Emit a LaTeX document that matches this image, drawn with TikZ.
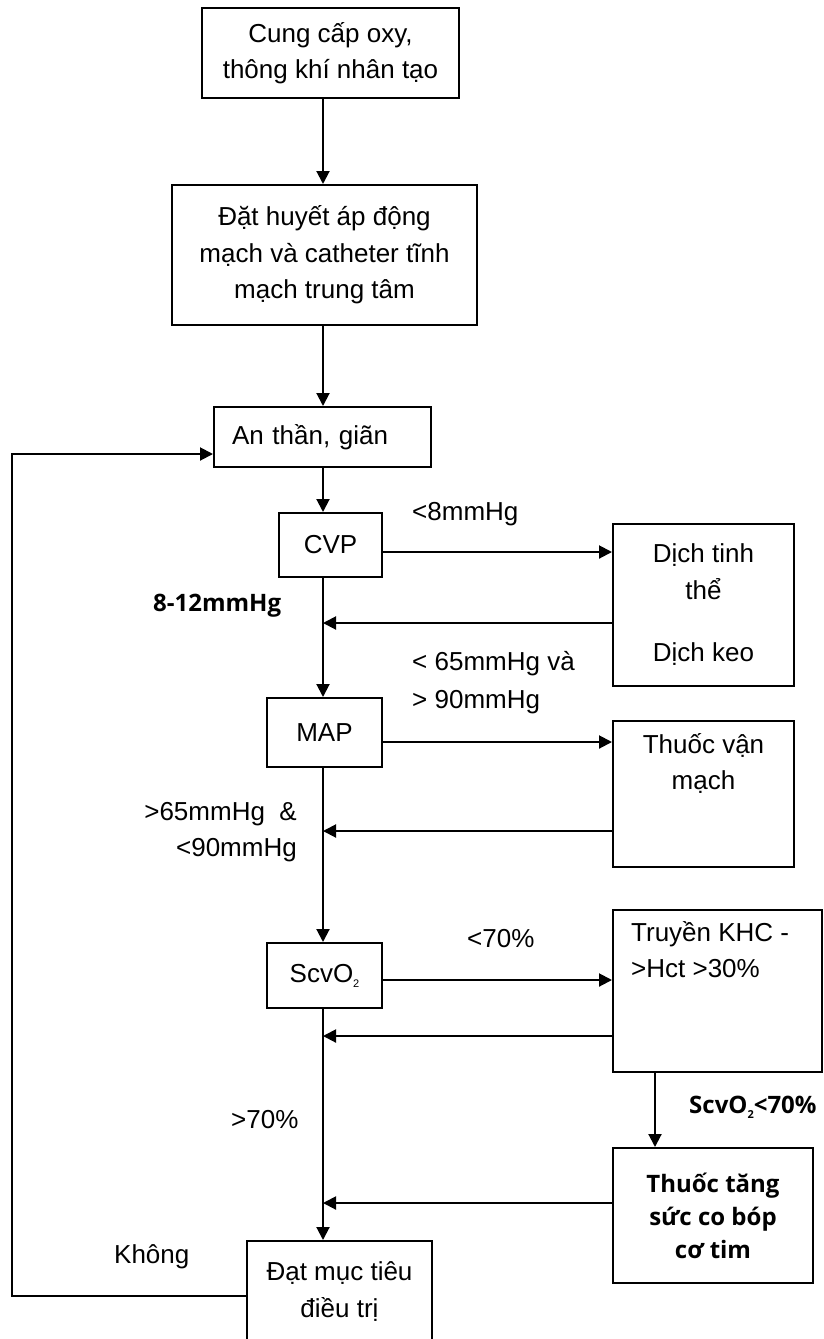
\documentclass[tikz,border=0pt]{standalone}
\usepackage{fontspec}
\setmainfont{Liberation Sans}
\newfontfamily\humanfont{Open Sans}
\usetikzlibrary{arrows.meta}
\newcommand{\smalltwo}{\raisebox{-5pt}{\fontsize{11}{11}\selectfont 2}}

\begin{document}
\begin{tikzpicture}[x=1pt, y=-1pt,
    box/.style={draw, line width=2pt, inner sep=0pt, align=center, font=\fontsize{26}{36.5}\selectfont},
    arr/.style={line width=2pt, -{Triangle[length=13pt, width=13pt]}},
    lbl/.style={inner sep=0pt, font=\fontsize{26}{36.5}\selectfont},
    boldlbl/.style={inner sep=0pt, font=\fontsize{24}{33}\humanfont\bfseries}]
    \useasboundingbox (0,0) rectangle (824,1339);

    % Main column
    \node[box, minimum width=257pt, minimum height=90pt] (oxy) at (330.5,53) {Cung cấp oxy,\\thông khí nhân tạo};
    \node[box, minimum width=305pt, minimum height=140pt] (catheter) at (324.5,255) {Đặt huyết áp động\\mạch và catheter tĩnh\\mạch trung tâm};
    \node[box, minimum width=217pt, minimum height=60pt, inner xsep=18pt, text width=181pt, align=left] (sedation) at (322.5,437) {An thần, giãn};
    \node[box, minimum width=103pt, minimum height=64pt] (cvp) at (330.5,545) {CVP};
    \node[box, minimum width=115pt, minimum height=69pt] (map) at (324.5,732.5) {MAP};
    \node[box, minimum width=115pt, minimum height=65pt] (scvo) at (324.5,975.5) {ScvO\smalltwo};
    \node[box, minimum width=185pt, minimum height=101pt] (target) at (339.5,1291.5) {Đạt mục tiêu\\điều trị};

    % Right column
    \node[box, minimum width=181pt, minimum height=162pt] (fluid) at (703.5,605) {Dịch tinh\\thể\\[26pt]Dịch keo};
    \node[box, minimum width=181pt, minimum height=146pt] (vaso) at (703.5,794) {};
    \node[lbl, align=center, anchor=north] (vasoText) at (703.5,733) {Thuốc vận\\mạch};
    \node[box, minimum width=209pt, minimum height=162pt] (transfusion) at (717.5,991) {};
    \node[lbl, align=left, anchor=north west] (transfusionText) at (631,921) {Truyền KHC -\\>Hct >30\%};
    \node[box, minimum width=200pt, minimum height=135pt, font=\fontsize{24}{33}\humanfont\bfseries] (inotrope) at (713,1215.5) {Thuốc tăng\\sức co bóp\\cơ tim};

    % Branch labels
    \node[lbl, anchor=west] (lowCvp) at (412,514) {<8mmHg};
    \node[boldlbl, anchor=west] (okCvp) at (153,606) {8-12mmHg};
    \node[lbl, anchor=west] (lowMap) at (412,664) {< 65mmHg và};
    \node[lbl, anchor=west] (highMap) at (412,702) {> 90mmHg};
    \node[lbl, anchor=east, align=right] (okMap) at (297,832) {>65mmHg \ \&\\<90mmHg};
    \node[lbl, anchor=west] (lowScv) at (467,939) {<70\%};
    \node[lbl, anchor=west] (okScv) at (231,1120) {>70\%};
    \node[boldlbl, anchor=west] (stillLow) at (689,1107) {ScvO\smalltwo<70\%};
    \node[lbl, anchor=west] (no) at (114,1257) {Không};

    % Spine
    \coordinate (spine) at (323,0);
    \draw[arr] (oxy.south -| spine) -- (catheter.north -| spine);
    \draw[arr] (catheter.south -| spine) -- (sedation.north -| spine);
    \draw[arr] (sedation.south -| spine) -- (cvp.north -| spine);
    \draw[arr] (cvp.south -| spine) -- (map.north -| spine);
    \draw[arr] (map.south -| spine) -- (scvo.north -| spine);
    \draw[arr] (scvo.south -| spine) -- (target.north -| spine);

    % Out to treatments
    \draw[arr] (cvp.east |- 0,552) -- (fluid.west |- 0,552);
    \draw[arr] (map.east |- 0,742) -- (vaso.west |- 0,742);
    \draw[arr] (scvo.east |- 0,980) -- (transfusion.west |- 0,980);
    \draw[arr] (transfusion.south -| 655,0) -- (inotrope.north -| 655,0);

    % Back to spine
    \draw[arr] (fluid.west |- 0,623) -- (spine |- 0,623);
    \draw[arr] (vaso.west |- 0,831) -- (spine |- 0,831);
    \draw[arr] (transfusion.west |- 0,1036) -- (spine |- 0,1036);
    \draw[arr] (inotrope.west |- 0,1203) -- (spine |- 0,1203);

    % Loop back
    \draw[arr] (target.west |- 0,1296) -- (12,1296) |- (sedation.west |- 0,454);
\end{tikzpicture}
\end{document}
